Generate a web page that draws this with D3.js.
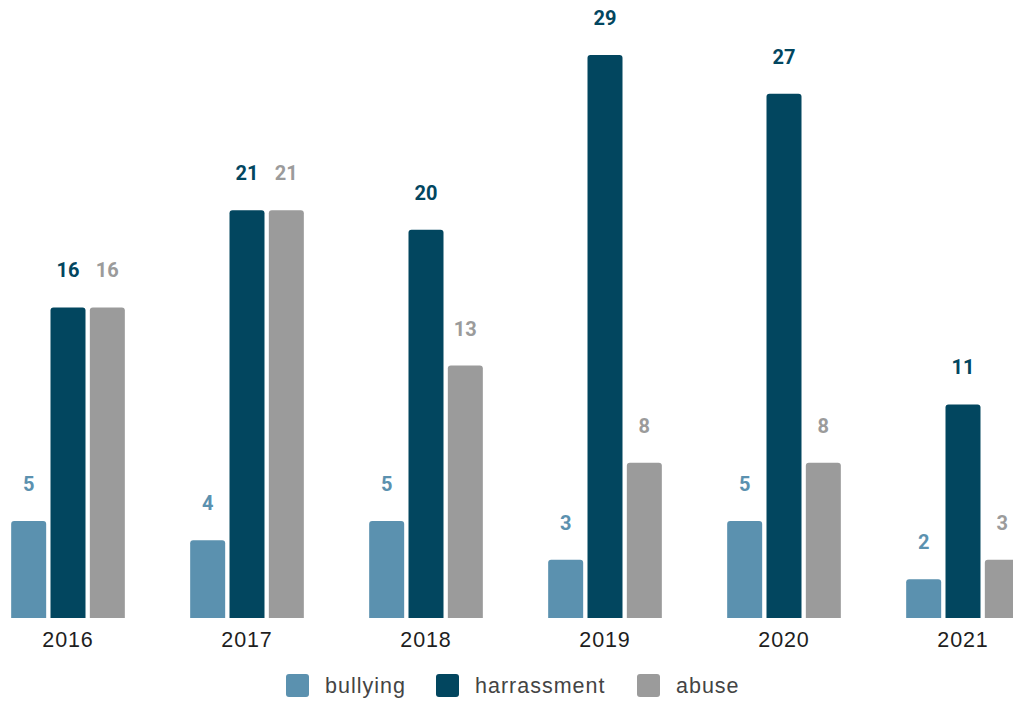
<!DOCTYPE html>
<html>
<head>
<meta charset="utf-8">
<script src="https://cdn.jsdelivr.net/npm/d3@7"></script>
<style>
  html, body { margin: 0; padding: 0; background: #fff; }
  svg { display: block; }
</style>
</head>
<body>
<svg id="chart" width="1013" height="702"></svg>
<script>
// Reported incidents per year, by type
const years = ["2016", "2017", "2018", "2019", "2020", "2021"];
const seriesNames = ["bullying", "harrassment", "abuse"];
const bullying = [5, 4, 5, 3, 5, 2];
const harrassment = [16, 21, 20, 29, 27, 11];
const abuse = [16, 21, 13, 8, 8, 3];
const seriesColors = ["#5b91af", "#02465f", "#9b9b9b"];

const valuesBySeries = { bullying, harrassment, abuse };
const rows = years.map((yr, i) => ({
  year: yr,
  values: seriesNames.map(s => ({ key: s, value: valuesBySeries[s][i] }))
}));

const svg = d3.select("#chart");
const baseY = 618;
const topY = 55;

const x0 = d3.scaleBand()
  .domain(years)
  .range([-21.5, 1052.5])
  .paddingInner(0.365)
  .paddingOuter(0.1825);

const x1 = d3.scaleBand()
  .domain(seriesNames)
  .range([0, x0.bandwidth()])
  .paddingInner(0.11);

const y = d3.scaleLinear().domain([0, 29]).range([baseY, topY]);

const color = d3.scaleOrdinal().domain(seriesNames).range(seriesColors);

// bar with rounded top corners
function barPath(x, yTop, w, h, r) {
  r = Math.min(r, h, w / 2);
  return `M${x},${yTop + h}V${yTop + r}Q${x},${yTop} ${x + r},${yTop}` +
         `H${x + w - r}Q${x + w},${yTop} ${x + w},${yTop + r}V${yTop + h}Z`;
}

const groups = svg.append("g").selectAll("g")
  .data(rows)
  .join("g")
  .attr("transform", d => `translate(${x0(d.year)},0)`);

groups.selectAll("path")
  .data(d => d.values)
  .join("path")
  .attr("d", d => barPath(x1(d.key), y(d.value), x1.bandwidth(), baseY - y(d.value), 3))
  .attr("fill", d => color(d.key));

groups.selectAll("text.val")
  .data(d => d.values)
  .join("text")
  .attr("class", "val")
  .attr("x", d => x1(d.key) + x1.bandwidth() / 2)
  .attr("y", d => y(d.value) - 37)
  .attr("text-anchor", "middle")
  .attr("dominant-baseline", "central")
  .attr("font-family", "Roboto, sans-serif")
  .attr("font-weight", "bold")
  .attr("font-size", 20)
  .attr("fill", d => color(d.key))
  .text(d => d.value);

// category axis (labels only)
const axis = svg.append("g")
  .attr("transform", `translate(0,${baseY})`)
  .call(d3.axisBottom(x0).tickSize(0).tickPadding(14));
axis.select(".domain").remove();
axis.selectAll("text")
  .attr("font-family", "'Liberation Sans', Arial, sans-serif")
  .attr("font-size", 21.5)
  .attr("letter-spacing", 0.9)
  .attr("fill", "#1e1e1e");

// legend
const legendX = [286, 436, 637];
const legend = svg.append("g").selectAll("g")
  .data(seriesNames)
  .join("g")
  .attr("transform", (d, i) => `translate(${legendX[i]},674)`);
legend.append("rect")
  .attr("width", 23).attr("height", 23).attr("rx", 3)
  .attr("fill", d => color(d));
legend.append("text")
  .attr("x", 39).attr("y", 12)
  .attr("dominant-baseline", "central")
  .attr("font-family", "'Liberation Sans', Arial, sans-serif")
  .attr("font-size", 21.5)
  .attr("letter-spacing", 1)
  .attr("fill", "#444")
  .text(d => d);
</script>
</body>
</html>
